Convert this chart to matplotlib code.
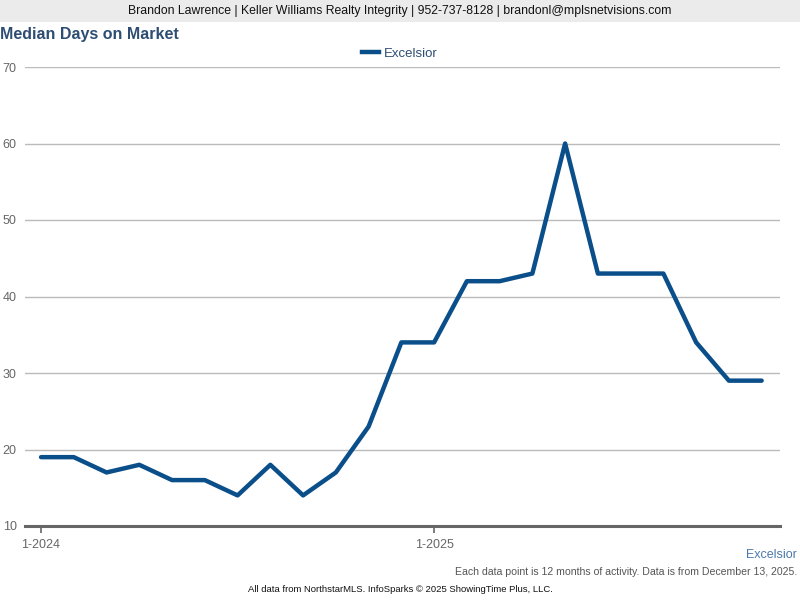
import matplotlib
matplotlib.use("Agg")
import matplotlib.pyplot as plt
from matplotlib.lines import Line2D

plt.rcParams['font.family'] = ['Liberation Sans', 'DejaVu Sans']

# months Jan 2024 .. Nov 2025
months = list(range(23))
days = [19, 19, 17, 18, 16, 16, 14, 18, 14, 17, 23, 34,
        34, 42, 42, 43, 60, 43, 43, 43, 34, 29, 29]
xtick_pos = [0, 12]
xtick_labels = ['1-2024', '1-2025']
yticks = [10, 20, 30, 40, 50, 60, 70]

line_color = '#0b4f8a'
title_color = '#2e4d73'

fig = plt.figure(figsize=(8, 6), dpi=100)

# header band
fig.patches.append(plt.Rectangle((0, 1 - 22 / 600), 1, 22 / 600, transform=fig.transFigure,
                                 facecolor='#ebebeb', edgecolor='none', zorder=0))
fig.text(0.5, 1 - 11 / 600,
         'Brandon Lawrence | Keller Williams Realty Integrity | 952-737-8128 | brandonl@mplsnetvisions.com',
         ha='center', va='center', fontsize=8.8, color='#111111')
fig.text(0.0, 1 - 35 / 600, 'Median Days on Market', ha='left', va='center',
         fontsize=11.5, fontweight='bold', color=title_color)

ax = fig.add_axes([25 / 800, 1 - 526 / 600, 755 / 800, 459 / 600])
ax.plot(months, days, color=line_color, linewidth=3.2, solid_joinstyle='round',
        solid_capstyle='round', label='Excelsior', zorder=3)

ax.set_xlim(-0.49, 22.56)
ax.set_ylim(10, 70)
ax.set_yticks(yticks)
ax.set_xticks(xtick_pos)
ax.set_xticklabels(xtick_labels)
ax.grid(axis='y', color='#bbbbbb', linewidth=1)
ax.set_axisbelow(True)
for s in ['top', 'right', 'left']:
    ax.spines[s].set_visible(False)
ax.spines['bottom'].set_color('#666666')
ax.spines['bottom'].set_linewidth(2.2)
ax.tick_params(axis='y', length=0, labelsize=9, labelcolor='#666666', pad=6)
ax.tick_params(axis='x', length=5, width=1.2, color='#666666', labelsize=9,
               labelcolor='#666666', pad=4)

handle = Line2D([0], [0], color=line_color, linewidth=3.2)
fig.legend([handle], ['Excelsior'], loc='center', bbox_to_anchor=(0.5, 1 - 54 / 600),
           frameon=False, fontsize=9.5, handlelength=1.3, handletextpad=0.4,
           labelcolor=title_color)

fig.text(797 / 800, 1 - 555 / 600, 'Excelsior', ha='right', va='center',
         fontsize=9, color='#4a79ab')
fig.text(797 / 800, 1 - 572 / 600,
         'Each data point is 12 months of activity. Data is from December 13, 2025.',
         ha='right', va='center', fontsize=7.6, color='#555555')
fig.text(0.5, 1 - 590 / 600,
         'All data from NorthstarMLS. InfoSparks \u00a9 2025 ShowingTime Plus, LLC.',
         ha='center', va='center', fontsize=6.8, color='#111111')

fig.savefig('out.png', dpi=100)
